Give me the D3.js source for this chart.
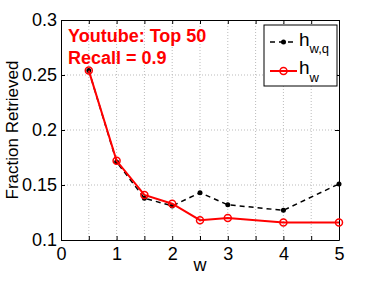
<!DOCTYPE html>
<html>
<head>
<meta charset="utf-8">
<script src="https://cdn.jsdelivr.net/npm/d3@7"></script>
<style>
  body { margin: 0; background: #fff; }
  text { font-family: "Liberation Sans", Arial, sans-serif; }
</style>
</head>
<body>
<svg id="chart"></svg>
<script>
// Data
const wValues = [0.5, 1, 1.5, 2, 2.5, 3, 4, 5];
const hwq = [0.254, 0.171, 0.138, 0.131, 0.143, 0.132, 0.127, 0.151];
const hw = [0.254, 0.172, 0.141, 0.133, 0.118, 0.120, 0.116, 0.116];
const xTicks = [0, 0.5, 1, 1.5, 2, 2.5, 3, 3.5, 4, 4.5, 5];
const yTicks = [0.1, 0.15, 0.2, 0.25, 0.3];

let width = 374;
let height = 281;
let margin = { top: 20, right: 35, bottom: 41, left: 61 };

let svg = d3.select("#chart")
    .attr("width", width)
    .attr("height", height);

let xScale = d3.scaleLinear()
    .domain([0, 5])
    .range([margin.left, width - margin.right]);

let yScale = d3.scaleLinear()
    .domain([0.1, 0.3])
    .range([height - margin.bottom, margin.top]);

// Grid
svg.append("g")
    .selectAll("line")
    .data(xTicks.slice(1, -1))
    .enter().append("line")
    .attr("x1", d => xScale(d)).attr("x2", d => xScale(d))
    .attr("y1", yScale(0.1)).attr("y2", yScale(0.3))
    .attr("stroke", "#bbb")
    .attr("stroke-width", 1)
    .attr("stroke-dasharray", "1,2");

svg.append("g")
    .selectAll("line")
    .data(yTicks.slice(1, -1))
    .enter().append("line")
    .attr("x1", xScale(0)).attr("x2", xScale(5))
    .attr("y1", d => yScale(d)).attr("y2", d => yScale(d))
    .attr("stroke", "#bbb")
    .attr("stroke-width", 1)
    .attr("stroke-dasharray", "1,2");

// Axes with inward ticks (box on all sides)
let fmtX = d => Number.isInteger(d) ? d : "";
svg.append("g")
    .attr("transform", `translate(0, ${yScale(0.1)})`)
    .call(d3.axisBottom(xScale).tickValues(xTicks).tickFormat(fmtX).tickSizeInner(-4).tickSizeOuter(0).tickPadding(7));

svg.append("g")
    .attr("transform", `translate(${xScale(0)}, 0)`)
    .call(d3.axisLeft(yScale).tickValues(yTicks).tickFormat(d3.format("")).tickSizeInner(-4).tickSizeOuter(0).tickPadding(4));

svg.append("g")
    .attr("transform", `translate(0, ${yScale(0.3)})`)
    .call(d3.axisTop(xScale).tickValues(xTicks).tickFormat("").tickSizeInner(-4).tickSizeOuter(0));

svg.append("g")
    .attr("transform", `translate(${xScale(5)}, 0)`)
    .call(d3.axisRight(yScale).tickValues(yTicks).tickFormat("").tickSizeInner(-4).tickSizeOuter(0));

svg.selectAll(".domain").attr("stroke", "#000").attr("stroke-width", 1);
svg.selectAll(".tick line").attr("stroke", "#000");
svg.selectAll(".tick text")
    .style("font-size", "18px")
    .attr("fill", "#000");

// Axis labels
svg.append("text")
    .attr("x", (xScale(0) + xScale(5)) / 2)
    .attr("y", 271)
    .attr("text-anchor", "middle")
    .style("font-size", "18px")
    .text("w");

svg.append("text")
    .attr("transform", "rotate(-90)")
    .attr("x", -(yScale(0.1) + yScale(0.3)) / 2)
    .attr("y", 18)
    .attr("text-anchor", "middle")
    .style("font-size", "17px")
    .text("Fraction Retrieved");

// Lines
let line = (vals) => d3.line()
    .x((d, i) => xScale(wValues[i]))
    .y(d => yScale(d))(vals);

svg.append("path")
    .attr("d", line(hwq))
    .attr("fill", "none")
    .attr("stroke", "#000")
    .attr("stroke-width", 1.5)
    .attr("stroke-dasharray", "5,4");

svg.selectAll(".dot-hwq")
    .data(hwq)
    .enter().append("circle")
    .attr("class", "dot-hwq")
    .attr("cx", (d, i) => xScale(wValues[i]))
    .attr("cy", d => yScale(d))
    .attr("r", 2.5)
    .attr("fill", "#000");

svg.append("path")
    .attr("d", line(hw))
    .attr("fill", "none")
    .attr("stroke", "#f00")
    .attr("stroke-width", 2);

svg.selectAll(".dot-hw")
    .data(hw)
    .enter().append("circle")
    .attr("class", "dot-hw")
    .attr("cx", (d, i) => xScale(wValues[i]))
    .attr("cy", d => yScale(d))
    .attr("r", 3.5)
    .attr("fill", "none")
    .attr("stroke", "#f00")
    .attr("stroke-width", 1.5);

// Annotation
svg.append("text")
    .attr("x", 68)
    .attr("y", 42)
    .attr("fill", "#f00")
    .style("font-size", "18px")
    .style("font-weight", "bold")
    .text("Youtube: Top 50");

svg.append("text")
    .attr("x", 68)
    .attr("y", 64)
    .attr("fill", "#f00")
    .style("font-size", "18px")
    .style("font-weight", "bold")
    .text("Recall = 0.9");

// Legend
let legend = svg.append("g");
legend.append("rect")
    .attr("x", 264).attr("y", 25)
    .attr("width", 73).attr("height", 61)
    .attr("fill", "#fff")
    .attr("stroke", "#000");

legend.append("line")
    .attr("x1", 270).attr("x2", 297)
    .attr("y1", 42).attr("y2", 42)
    .attr("stroke", "#000").attr("stroke-width", 1.5)
    .attr("stroke-dasharray", "5,4");
legend.append("circle")
    .attr("cx", 283.5).attr("cy", 42).attr("r", 2.5).attr("fill", "#000");

legend.append("line")
    .attr("x1", 270).attr("x2", 297)
    .attr("y1", 71).attr("y2", 71)
    .attr("stroke", "#f00").attr("stroke-width", 2);
legend.append("circle")
    .attr("cx", 283.5).attr("cy", 71).attr("r", 3.5)
    .attr("fill", "none").attr("stroke", "#f00").attr("stroke-width", 1.5);

let t1 = legend.append("text").attr("x", 299).attr("y", 46).style("font-size", "19px");
t1.append("tspan").text("h");
t1.append("tspan").attr("dy", 7).style("font-size", "13px").text("w,q");

let t2 = legend.append("text").attr("x", 299).attr("y", 74).style("font-size", "19px");
t2.append("tspan").text("h");
t2.append("tspan").attr("dy", 8).style("font-size", "13px").text("w");
</script>
</body>
</html>
